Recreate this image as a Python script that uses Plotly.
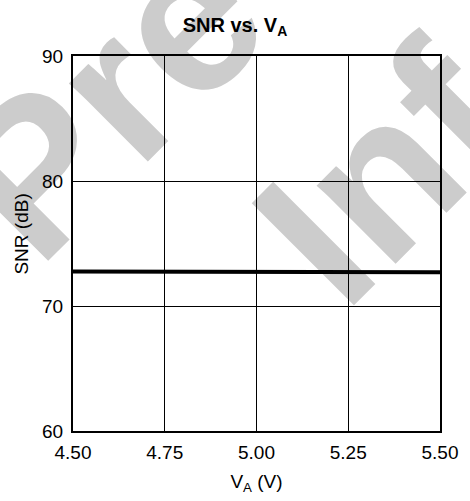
import plotly.graph_objects as go

# Data
va = [4.50, 4.75, 5.00, 5.25, 5.34, 5.50]
snr = [72.76, 72.76, 72.76, 72.75, 72.71, 72.71]

x_ticks = [4.50, 4.75, 5.00, 5.25, 5.50]
x_tick_text = ["4.50", "4.75", "5.00", "5.25", "5.50"]
y_ticks = [60, 70, 80, 90]

watermark_lines = ["Pre", "Inf"]

FONT = "Liberation Sans, Arial, Helvetica, sans-serif"
W, H = 470, 501
L, R, T, B = 73, 23, 56, 67
PW, PH = W - L - R, H - T - B


def to_paper(cx, cy):
    return (cx - L) / PW, (H - B - cy) / PH


fig = go.Figure()
fig.add_trace(go.Scatter(x=va, y=snr, mode="lines",
                         line=dict(color="black", width=4),
                         showlegend=False, hoverinfo="skip"))

# watermark text centers in pixel coords (x, y from top)
wm_centers = [(93, 86), (375, 160)]
for txt, (cx, cy) in zip(watermark_lines, wm_centers):
    px, py = to_paper(cx, cy)
    fig.add_shape(type="rect", xref="paper", yref="paper",
                  x0=px - 0.01, x1=px + 0.01, y0=py - 0.01, y1=py + 0.01,
                  line=dict(width=0), fillcolor="rgba(0,0,0,0)",
                  layer="below",
                  label=dict(text=txt, textangle=-45, textposition="middle center",
                             font=dict(family=FONT, size=210, color="#cccccc",
                                       weight="bold")))

axis_common = dict(showline=True, linecolor="black", linewidth=2, mirror=True,
                   showgrid=True, gridcolor="black", gridwidth=1,
                   zeroline=False, ticks="",
                   tickfont=dict(family=FONT, size=19, color="black"))

ytx, yty = to_paper(21, 235)
fig.add_annotation(text="SNR (dB)", xref="paper", yref="paper", x=ytx, y=yty,
                   xanchor="center", yanchor="middle", textangle=-90,
                   showarrow=False, font=dict(family=FONT, size=19, color="black"))

fig.update_layout(
    width=W, height=H,
    margin=dict(l=L, r=R, t=T, b=B),
    paper_bgcolor="white", plot_bgcolor="rgba(0,0,0,0)",
    title=dict(text="<b>SNR vs. V<sub>A</sub></b>", x=0.5, xanchor="center",
               y=1 - 25 / H, yanchor="middle", yref="container",
               font=dict(family=FONT, size=20, color="black")),
    xaxis=dict(range=[4.5, 5.5], tickvals=x_ticks, ticktext=x_tick_text,
               title=dict(text="V<sub>A</sub> (V)", standoff=13,
                          font=dict(family=FONT, size=19, color="black")),
               ticklabelstandoff=3,
               **axis_common),
    yaxis=dict(range=[60, 90], tickvals=y_ticks,
               ticklabelstandoff=4,
               **axis_common),
)

fig.write_html("out.html")
